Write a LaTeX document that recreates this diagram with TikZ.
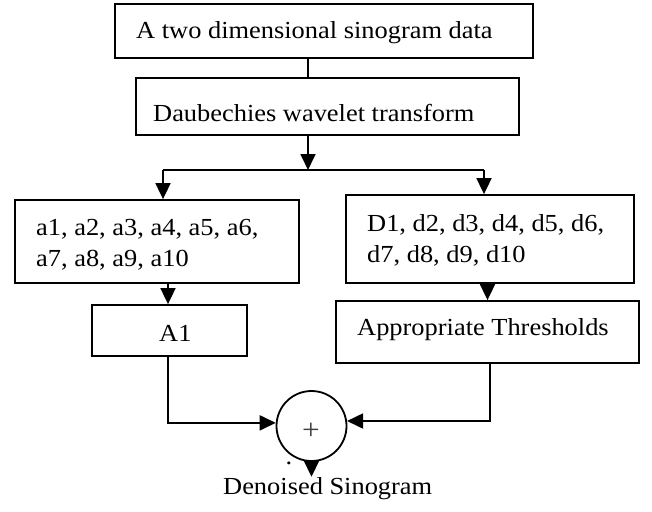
\documentclass[tikz,border=0pt]{standalone}
\usepackage{fontspec}
\setmainfont{Liberation Serif}[FakeStretch=1.078]
\usetikzlibrary{arrows.meta}
\begin{document}
\begin{tikzpicture}[x=1pt,y=-1pt,
  box/.style={draw,line width=1.8pt,inner sep=0pt},
  txt/.style={inner sep=0pt,font=\fontsize{24.5}{31}\selectfont},
  link/.style={line width=1.8pt},
  arr/.style={line width=1.8pt,-{Triangle[length=16pt,width=15pt]}}]
\useasboundingbox (0,0) rectangle (652,511);
% boxes
\node[box,minimum width=418pt,minimum height=54pt] (b1) at (324,31) {};
\node[box,minimum width=383pt,minimum height=57pt] (b2) at (327.5,106.5) {};
\node[box,minimum width=284pt,minimum height=83pt] (ba) at (157,241.5) {};
\node[box,minimum width=288pt,minimum height=88pt] (bD) at (490,239) {};
\node[box,minimum width=155pt,minimum height=51pt] (bA1) at (169.5,330.5) {};
\node[box,minimum width=303pt,minimum height=62pt] (bT) at (487.5,332) {};
\node[draw,circle,line width=1.8pt,minimum size=70pt,inner sep=0pt] (c) at (311.5,426) {};
% texts
\node[txt,anchor=base west] (t1) at (136,38.5) {A two dimensional sinogram data};
\node[txt,anchor=base west] (t2) at (153,121.5) {Daubechies wavelet transform};
\node[txt,anchor=north west,align=left] (ta) at (36,219.5) {a1, a2, a3, a4, a5, a6,\\a7, a8, a9, a10};
\node[txt,anchor=north west,align=left] (tD) at (367,214.5) {D1, d2, d3, d4, d5, d6,\\d7, d8, d9, d10};
\node[txt,anchor=base west] (tA1) at (159,341) {A1};
\node[txt,anchor=base west] (tT) at (357,335.5) {Appropriate Thresholds};
\node[inner sep=0pt,font=\fontsize{29}{31}\selectfont,text=black!75] (plus) at (311,431) {+};
\node[txt,anchor=base west] (dot) at (285.5,464) {.};
\node[txt,anchor=base west] (out) at (223,494) {Denoised Sinogram};
% helper coordinates
\coordinate (split) at (308,170);
\coordinate (la) at (163,170);
\coordinate (ld) at (484,170);
\coordinate (xa) at (168,0);
\coordinate (xt) at (490,0);
% connectors
\draw[link] (b1.south -| split) -- (b2.north -| split);
\draw[arr] (b2.south -| split) -- (split);
\draw[arr] (la) -- (la |- ba.north);
\draw[arr] (ld) -- (ld |- bD.north);
\draw[link] (la) -- (ld);
\draw[arr] (ba.south -| xa) -- (bA1.north -| xa);
\draw[arr] (bD.south -| bT.north) -- (bT.north);
\draw[arr] (bA1.south -| xa) |- (c.175);
\draw[arr] (bT.south -| xt) |- (c.8);
\draw[arr] (c.south) -- (out.north -| c.south);
\end{tikzpicture}
\end{document}
